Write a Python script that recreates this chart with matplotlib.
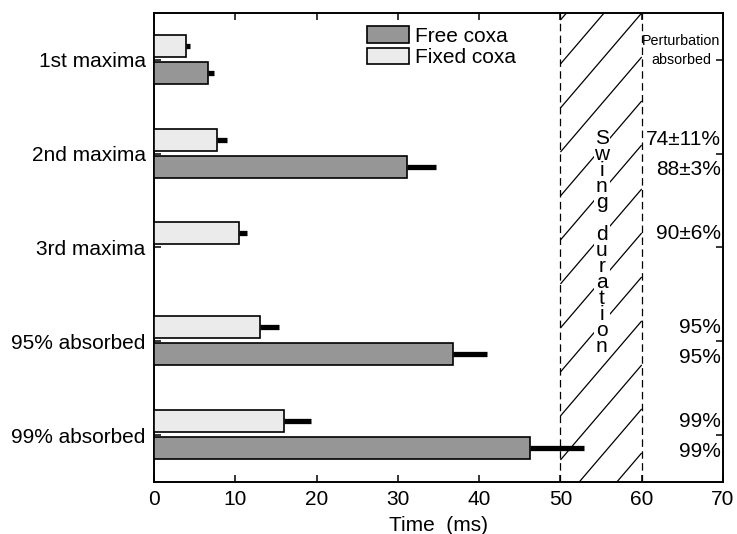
import numpy as np
import matplotlib
matplotlib.use("Agg")
import matplotlib.pyplot as plt
from matplotlib.patches import Patch

plt.rcParams['font.family'] = ['Liberation Sans', 'DejaVu Sans']

# ---- data ----
categories = ["1st maxima", "2nd maxima", "3rd maxima", "95% absorbed", "99% absorbed"]
free_mean = [6.6, 31.1, np.nan, 36.8, 46.3]
free_err = [0.8, 3.6, np.nan, 4.2, 6.6]
fixed_mean = [3.9, 7.8, 10.4, 13.0, 16.0]
fixed_err = [0.5, 1.2, 1.1, 2.4, 3.3]
fixed_pct = ["", "74\u00b111%", "90\u00b16%", "95%", "99%"]
free_pct = ["", "88\u00b13%", "", "95%", "99%"]
swing_start, swing_end = 50, 60
xticks = [0, 10, 20, 30, 40, 50, 60, 70]

FREE_C = "#969696"
FIXED_C = "#ebebeb"
FS = 15

fig = plt.figure(figsize=(7.37, 5.34), dpi=100)
ax = fig.add_axes([154/737, 1-482/534, (723-154)/737, (482-13)/534])

ypos = np.arange(1, len(categories) + 1)
h = 0.235
off_fixed = -0.15
off_free = 0.14

free_mean_a = np.array(free_mean, dtype=float)
free_err_a = np.array(free_err, dtype=float)
fixed_mean_a = np.array(fixed_mean, dtype=float)
fixed_err_a = np.array(fixed_err, dtype=float)

ok = ~np.isnan(free_mean_a)
ax.barh(ypos[ok] + off_free, free_mean_a[ok], height=h, color=FREE_C,
        edgecolor="black", linewidth=1.2, zorder=3)
ax.barh(ypos + off_fixed, fixed_mean_a, height=h, color=FIXED_C,
        edgecolor="black", linewidth=1.2, zorder=3)
ax.errorbar(free_mean_a[ok], ypos[ok] + off_free,
            xerr=[np.zeros(ok.sum()), free_err_a[ok]], fmt="none",
            ecolor="black", elinewidth=3.8, capsize=0, zorder=4)
ax.errorbar(fixed_mean_a, ypos + off_fixed,
            xerr=[np.zeros(len(fixed_mean_a)), fixed_err_a], fmt="none",
            ecolor="black", elinewidth=3.8, capsize=0, zorder=4)

ax.set_xlim(0, 70)
ax.set_ylim(5.5, 0.5)

# swing duration region
ax.axvline(swing_start, color="black", lw=0.9, ls=(0, (6, 3.5)), zorder=2)
ax.axvline(swing_end, color="black", lw=0.9, ls=(0, (6, 3.5)), zorder=2)
spacing = 0.469
drop = 1.013
for k in range(-3, 12):
    y60 = 0.5 + k * spacing
    ax.plot([swing_start, swing_end], [y60 + drop, y60], color="black",
            lw=0.9, zorder=2, solid_capstyle="butt")

word = "Swing duration"
ax.text(55.1, 2.95, "\n".join(word), ha="center", va="center", fontsize=FS,
        linespacing=0.8, zorder=3,
        bbox=dict(facecolor="white", edgecolor="none", pad=0.5))

# percentage labels
for y, s in zip(ypos + off_fixed, fixed_pct):
    if s:
        ax.text(69.7, y, s, ha="right", va="center", fontsize=FS, zorder=5)
for y, s in zip(ypos + off_free, free_pct):
    if s:
        ax.text(69.7, y + 0.03, s, ha="right", va="center", fontsize=FS, zorder=5)
ax.text(64.85, 0.9, "Perturbation\nabsorbed", ha="center", va="center",
        fontsize=10.3, linespacing=1.45, zorder=5)

ax.set_yticks(ypos)
ax.set_yticklabels(categories, fontsize=FS)
ax.set_xticks(xticks)
ax.set_xticklabels([str(v) for v in xticks], fontsize=FS)
ax.tick_params(direction="in", length=5, width=1.1, top=True, right=True)
ax.tick_params(axis="y", pad=6)
ax.tick_params(axis="x", pad=6)
for sp in ax.spines.values():
    sp.set_linewidth(1.4)
ax.set_xlabel("Time  (ms)", fontsize=FS, labelpad=4.5)

handles = [Patch(facecolor=FREE_C, edgecolor="black", linewidth=1.2, label="Free coxa"),
           Patch(facecolor=FIXED_C, edgecolor="black", linewidth=1.2, label="Fixed coxa")]
ax.legend(handles=handles, loc="upper left", bbox_to_anchor=(367/737, 1-26/534),
          bbox_transform=fig.transFigure, frameon=False, fontsize=FS,
          handlelength=2.0, handleheight=0.85, handletextpad=0.3,
          labelspacing=0.1, borderpad=0, borderaxespad=0)

fig.savefig("out.png", dpi=100)
